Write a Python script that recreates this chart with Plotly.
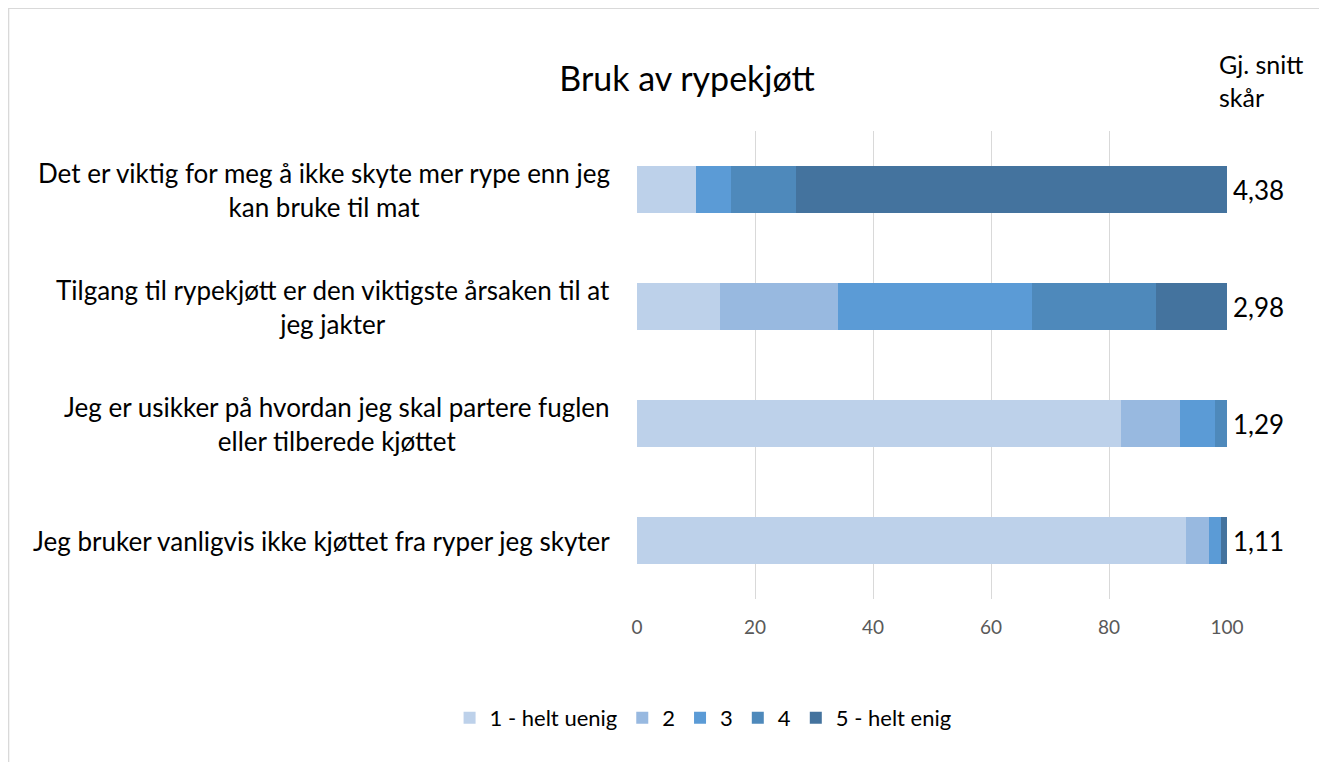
import plotly.graph_objects as go

# data (percent of respondents)
statements = [
    "Det er viktig for meg å ikke skyte mer rype enn jeg<br>kan bruke til mat",
    "Tilgang til rypekjøtt er den viktigste årsaken til at<br>jeg jakter",
    "Jeg er usikker på hvordan jeg skal partere fuglen<br>eller tilberede kjøttet",
    "Jeg bruker vanligvis ikke kjøttet fra ryper jeg skyter",
]
series_names = ["1 - helt uenig", "2", "3", "4", "5 - helt enig"]
s1 = [10, 14, 82, 93]
s2 = [0, 20, 10, 4]
s3 = [6, 33, 6, 2]
s4 = [11, 21, 2, 0]
s5 = [73, 12, 0, 1]
avg_score = ["4,38", "2,98", "1,29", "1,11"]

colors = ["#BDD1EA", "#98B9E0", "#5B9BD6", "#4E89BB", "#44739E"]
FONT = "Lato"

cats = ["c%d" % i for i in range(len(statements))]

fig = go.Figure()
for name, vals, col in zip(series_names, [s1, s2, s3, s4, s5], colors):
    fig.add_trace(go.Bar(y=cats, x=vals, name=name, orientation="h",
                         marker=dict(color=col, line=dict(width=0)),
                         width=0.4))

# category labels, centred lines
for c, lab in zip(cats, statements):
    fig.add_annotation(x=0, xref="paper", y=c, yref="y", text=lab, showarrow=False,
                       xanchor="right", xshift=-25, align="center",
                       font=dict(family=FONT, size=26, color="#000000"))

# average score at the bar ends
for c, v in zip(cats, avg_score):
    fig.add_annotation(x=100, xref="x", y=c, yref="y", text=v, showarrow=False,
                       xanchor="left", xshift=4,
                       font=dict(family=FONT, size=26, color="#000000"))

fig.add_annotation(x=0.983, xref="paper", y=1.179, yref="paper",
                   text="Gj. snitt<br>skår", showarrow=False, xanchor="left",
                   yanchor="top", align="left",
                   font=dict(family=FONT, size=25, color="#000000"))

# chart frame
fig.add_shape(type="rect", xref="paper", yref="paper",
              x0=-1.065, x1=1.158, y0=-0.361, y1=1.262,
              line=dict(color="#D9D9D9", width=1.3))

fig.update_layout(
    width=1319, height=754,
    margin=dict(l=629, r=100, t=123, b=163),
    paper_bgcolor="white", plot_bgcolor="white",
    barmode="stack", bargap=0.6,
    title=dict(text="Bruk av rypekjøtt", x=0.5148, xanchor="center",
               y=0.906, yanchor="middle",
               font=dict(family=FONT, size=34, color="#000000")),
    xaxis=dict(range=[0, 100], dtick=20, showgrid=True, gridcolor="#D9D9D9",
               gridwidth=1, zeroline=False, showline=False, ticks="",
               ticklabelstandoff=15,
               tickfont=dict(family=FONT, size=19, color="#595959")),
    yaxis=dict(autorange="reversed", showticklabels=False, showgrid=False,
               zeroline=False, showline=False),
    legend=dict(orientation="h", x=0.112, xanchor="center", y=-0.254,
                yanchor="middle", traceorder="normal",
                font=dict(family=FONT, size=22, color="#000000"),
                itemwidth=30),
    showlegend=True,
)

fig.write_html("out.html")
